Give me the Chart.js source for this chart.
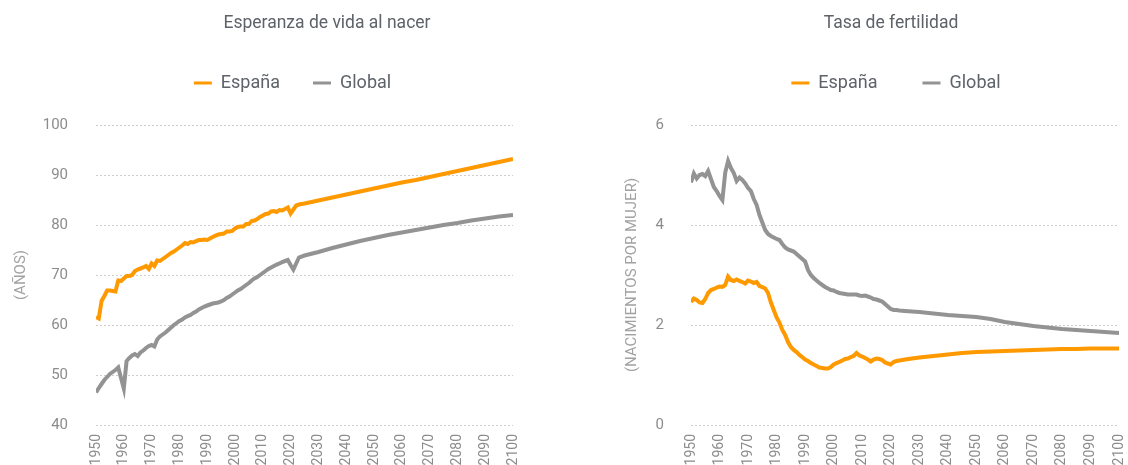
<!DOCTYPE html>
<html lang="es">
<head>
<meta charset="utf-8">
<title>Esperanza de vida y tasa de fertilidad</title>
<script src="https://cdn.jsdelivr.net/npm/chart.js@4.4.1/dist/chart.umd.min.js"></script>
<style>
  html, body { margin: 0; padding: 0; background: #fff; overflow: hidden; }
  body { width: 1128px; height: 465px; position: relative; overflow: hidden; }
  canvas { position: absolute; top: 0; }
  #vida { left: 0; }
  #fert { left: 616px; }
</style>
</head>
<body>
<canvas id="vida" width="564" height="465"></canvas>
<canvas id="fert" width="530" height="465"></canvas>
<script>
// años: serie anual 1950-2023, proyección cada 5 años hasta 2100
const histYears = Array.from({ length: 74 }, (_, i) => 1950 + i)
const projYears = [2025, 2030, 2035, 2040, 2045, 2050, 2055, 2060, 2065, 2070, 2075, 2080, 2085, 2090, 2095, 2100]
const years = histYears.concat(projYears)

const seriesNames = ['España', 'Global']

// esperanza de vida al nacer (años)
const vidaEspana = [
  61.6, 61.3, 64.8, 65.8, 66.9, 66.9, 66.8, 66.7, 68.9, 68.8,
  69.3, 69.8, 69.8, 70.0, 70.8, 71.1, 71.3, 71.5, 71.8, 71.2,
  72.3, 71.8, 72.9, 72.8, 73.2, 73.6, 74.0, 74.4, 74.7, 75.1,
  75.5, 75.9, 76.4, 76.2, 76.6, 76.5, 76.8, 77.0, 77.0, 77.1,
  77.0, 77.3, 77.6, 77.9, 78.1, 78.2, 78.3, 78.7, 78.7, 78.8,
  79.3, 79.6, 79.7, 79.7, 80.2, 80.2, 80.8, 80.9, 81.2, 81.6,
  81.9, 82.2, 82.3, 82.7, 82.8, 82.6, 83.0, 82.9, 83.2, 83.5,
  82.3, 83.1, 83.9, 84.1,
  84.3, 84.9, 85.5, 86.1, 86.7, 87.3, 87.9, 88.5, 89.0, 89.6, 90.2, 90.8, 91.4, 92.0, 92.6, 93.2
]
const vidaGlobal = [
  46.5, 47.4, 48.2, 49.0, 49.6, 50.2, 50.6, 51.0, 51.5, 49.4,
  47.3, 52.8, 53.4, 53.9, 54.2, 53.8, 54.5, 54.9, 55.4, 55.8,
  56.0, 55.7, 57.1, 57.7, 58.1, 58.5, 59.0, 59.5, 60.0, 60.4,
  60.8, 61.1, 61.5, 61.8, 62.0, 62.4, 62.7, 63.1, 63.4, 63.7,
  63.9, 64.1, 64.3, 64.4, 64.5, 64.7, 65.0, 65.4, 65.7, 66.1,
  66.5, 66.9, 67.2, 67.6, 68.0, 68.4, 68.9, 69.3, 69.6, 70.0,
  70.4, 70.8, 71.2, 71.5, 71.8, 72.1, 72.3, 72.6, 72.8, 73.0,
  72.0, 71.1, 72.3, 73.5,
  73.9, 74.6, 75.4, 76.1, 76.8, 77.4, 78.0, 78.5, 79.0, 79.5, 80.0, 80.4, 80.9, 81.3, 81.7, 82.0
]

// tasa de fertilidad (nacimientos por mujer)
const fertEspana = [
  2.46, 2.53, 2.50, 2.45, 2.44, 2.52, 2.64, 2.70, 2.72, 2.75,
  2.77, 2.76, 2.80, 2.97, 2.90, 2.88, 2.91, 2.88, 2.86, 2.83,
  2.89, 2.87, 2.84, 2.86, 2.78, 2.76, 2.73, 2.64, 2.45, 2.30,
  2.15, 2.05, 1.90, 1.80, 1.66, 1.56, 1.50, 1.46, 1.40, 1.36,
  1.31, 1.28, 1.24, 1.21, 1.18, 1.15, 1.14, 1.13, 1.13, 1.16,
  1.21, 1.24, 1.26, 1.29, 1.32, 1.33, 1.36, 1.38, 1.44, 1.39,
  1.37, 1.34, 1.31, 1.27, 1.31, 1.33, 1.32, 1.30, 1.25, 1.23,
  1.21, 1.26, 1.28, 1.29,
  1.31, 1.35, 1.38, 1.41, 1.44, 1.46, 1.47, 1.48, 1.49, 1.50, 1.51, 1.52, 1.52, 1.53, 1.53, 1.53
]
const fertGlobal = [
  4.85, 5.03, 4.93, 5.00, 5.02, 4.98, 5.08, 4.92, 4.76, 4.68,
  4.58, 4.50, 5.05, 5.28, 5.14, 5.04, 4.88, 4.95, 4.90, 4.83,
  4.74, 4.68, 4.52, 4.40, 4.20, 4.05, 3.90, 3.82, 3.78, 3.75,
  3.72, 3.70, 3.62, 3.55, 3.51, 3.49, 3.47, 3.42, 3.37, 3.32,
  3.27, 3.10, 3.00, 2.94, 2.89, 2.84, 2.80, 2.76, 2.73, 2.70,
  2.69, 2.66, 2.64, 2.63, 2.62, 2.61, 2.61, 2.61, 2.61, 2.59,
  2.58, 2.59, 2.57, 2.55, 2.52, 2.51, 2.49, 2.47, 2.42, 2.37,
  2.32, 2.30, 2.30, 2.29,
  2.28, 2.26, 2.23, 2.20, 2.18, 2.16, 2.12, 2.06, 2.02, 1.98, 1.95, 1.92, 1.90, 1.88, 1.86, 1.84
]

const xTicks = { min: 1950, max: 2100, step: 10 }

const ORANGE = '#ff9900'
const GREY = '#939393'
const TEXT = '#5e6269'
const TICK = '#8c8c8c'

Chart.defaults.font.family = "Roboto, 'DejaVu Sans', sans-serif"

// title drawn at a set spot, legend nudged sideways and given room below it
const panelTweaks = {
  id: 'panelTweaks',
  afterInit(chart, args, opts) {
    const legend = chart.legend
    const fit = legend.fit
    legend.fit = function () {
      fit.call(this)
      this.height += opts.legendGap
    }
  },
  afterLayout(chart, args, opts) {
    chart.legend.left += opts.legendShift
    chart.legend.right += opts.legendShift
  },
  afterDraw(chart, args, opts) {
    const ctx = chart.ctx
    ctx.save()
    ctx.font = opts.font
    ctx.fillStyle = TEXT
    ctx.textAlign = 'center'
    ctx.textBaseline = 'middle'
    ctx.fillText(opts.title, opts.titleX, opts.titleY)
    ctx.restore()
  }
}

function points(values) {
  return years.map((y, i) => ({ x: y, y: values[i] }))
}

function makeChart(id, p) {
  return new Chart(document.getElementById(id), {
    type: 'line',
    data: {
      datasets: [
        { label: seriesNames[0], data: points(p.spain), borderColor: ORANGE, backgroundColor: ORANGE },
        { label: seriesNames[1], data: points(p.world), borderColor: GREY, backgroundColor: GREY }
      ]
    },
    options: {
      responsive: false,
      animation: false,
      layout: { padding: p.padding },
      elements: {
        line: { borderWidth: 4, tension: 0, borderJoinStyle: 'miter' },
        point: { radius: 0, borderWidth: 3, hoverRadius: 0 }
      },
      plugins: {
        tooltip: { enabled: false },
        legend: {
          fullSize: false,
          labels: {
            usePointStyle: true,
            pointStyle: 'line',
            pointStyleWidth: 18,
            padding: p.legendPad,
            color: TEXT,
            font: { size: 18 }
          }
        },
        panelTweaks: {
          title: p.title,
          titleX: p.titleX,
          titleY: 24,
          font: "17.5px Roboto, 'DejaVu Sans', sans-serif",
          legendGap: 23,
          legendShift: p.legendShift
        }
      },
      scales: {
        x: {
          type: 'linear',
          min: xTicks.min,
          max: xTicks.max,
          grid: { display: false },
          border: { display: false },
          ticks: {
            stepSize: xTicks.step,
            autoSkip: false,
            minRotation: 90,
            maxRotation: 90,
            padding: 1,
            color: TICK,
            font: { size: 14 },
            callback: v => String(v)
          },
          afterFit: s => { s.height = 40 }
        },
        y: {
          min: p.yMin,
          max: p.yMax,
          grid: { color: '#cdcdcd', lineWidth: 1, drawTicks: false },
          border: { display: false, dash: [2, 2] },
          ticks: {
            stepSize: p.yStep,
            padding: p.tickPad,
            color: TICK,
            font: { size: 15 }
          },
          title: {
            display: true,
            text: p.yTitle,
            color: '#a2a2a2',
            font: { size: 15 },
            padding: { top: 4, bottom: 0 }
          },
          afterFit: s => { s.width = p.axisWidth }
        }
      }
    },
    plugins: [panelTweaks]
  })
}

makeChart('vida', {
  title: 'Esperanza de vida al nacer',
  titleX: 327,
  spain: vidaEspana,
  world: vidaGlobal,
  yMin: 40, yMax: 100, yStep: 10,
  yTitle: '(AÑOS)',
  padding: { top: 41, left: 8, right: 51, bottom: 0 },
  axisWidth: 88,
  tickPad: 28,
  legendPad: 33,
  legendShift: -12
})

makeChart('fert', {
  title: 'Tasa de fertilidad',
  titleX: 275,
  spain: fertEspana,
  world: fertGlobal,
  yMin: 0, yMax: 6, yStep: 2,
  yTitle: '(NACIMIENTOS POR MUJER)',
  padding: { top: 29, left: 3, right: 27, bottom: 0 },
  axisWidth: 72,
  tickPad: 27,
  legendPad: 45,
  legendShift: -9
})
</script>
</body>
</html>
